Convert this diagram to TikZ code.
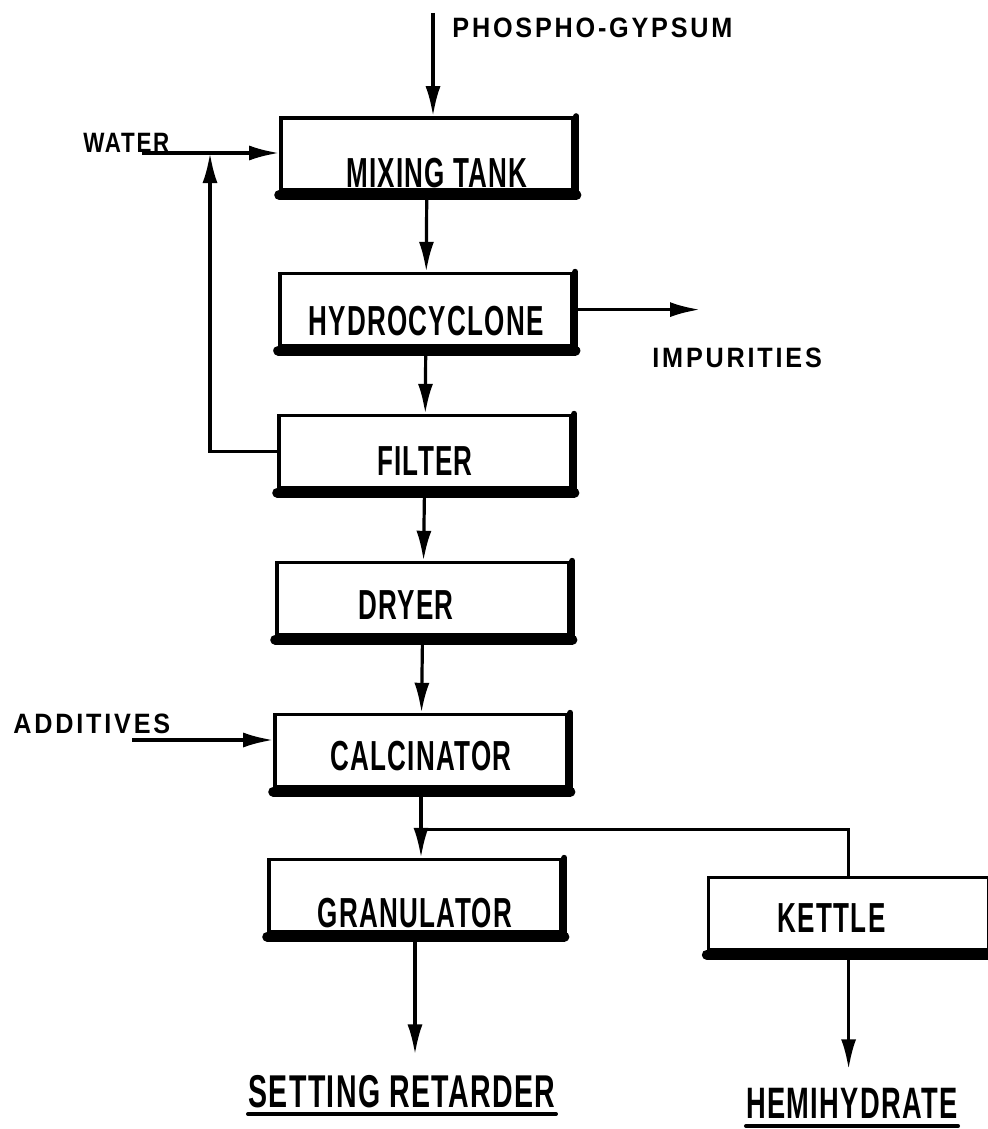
\documentclass[tikz,border=0pt]{standalone}
\usepackage{fontspec}
\usepackage{tikz}
\usetikzlibrary{arrows.meta, positioning, calc}
\definecolor{Ink}{RGB}{0, 0, 0}
\newfontfamily\boxfont[FakeStretch=0.62,LetterSpace=3]{Liberation Sans}
\newfontfamily\tagfont[FakeStretch=0.9,LetterSpace=10]{Liberation Sans}
\newfontfamily\waterfont[FakeStretch=0.8,LetterSpace=6]{Liberation Sans}

\begin{document}
\begin{tikzpicture}[
        x=0.5pt, y=-0.5pt,
        unit/.style={rectangle, minimum width=146pt, minimum height=36pt, inner sep=0pt, text centered, draw=Ink, fill=white, line width=1.8pt, text=Ink, font=\boxfont\bfseries\fontsize{21}{21}\selectfont},
        stream/.style={inner sep=0pt, text=Ink, font=\tagfont\bfseries\fontsize{14}{14}\selectfont},
        product/.style={inner sep=0pt, text=Ink, font=\boxfont\bfseries\fontsize{23}{23}\selectfont},
        arrow/.style={line width=1.6pt, -{Latex[length=15pt,width=7.5pt]}, Ink},
        pipe/.style={line width=1.6pt, Ink},
        rim/.style={line width=#1, Ink, line cap=round}
    ]
        \useasboundingbox (0,0) rectangle (988,1129);

        \node (mix) [unit] at (427,154) {\rule{0pt}{34pt}\hspace*{10pt}MIXING TANK};
        \node (hyd) [unit, below=40pt of mix, xshift=-0.5pt] {\rule{0pt}{26pt}HYDROCYCLONE};
        \node (filter) [unit, below=33.2pt of hyd, xshift=-0.5pt] {\rule{0pt}{24pt}FILTER};
        \node (dryer) [unit, below=35.7pt of filter, xshift=-1pt] {\rule{0pt}{21pt}DRYER\hspace*{17pt}};
        \node (calc) [unit, below=38.2pt of dryer, xshift=-1pt] {\rule{0pt}{20pt}CALCINATOR};
        \node (gran) [unit, below=34.7pt of calc, xshift=-3pt] {\rule{0pt}{32pt}GRANULATOR};
        \node (kettle) [unit, minimum width=140pt, right=72pt of gran, yshift=-9pt] {\rule{0pt}{19pt}KETTLE\hspace*{17pt}};

        \node (phos) [stream, anchor=west] at (452,28) {PHOSPHO-GYPSUM};
        \node (water) [stream, font=\waterfont\bfseries\fontsize{14}{14}\selectfont, anchor=base west] at (83,153) {WATER};
        \node (imp) [stream, anchor=west] at (652,358) {IMPURITIES};
        \node (add) [stream, anchor=base west] at (13,733) {ADDITIVES};
        \node (setting) [product, anchor=base] at (402,1107) {SETTING RETARDER};
        \node (hemi) [product, font=\boxfont\bfseries\fontsize{22}{22}\selectfont, anchor=base] at (852,1118) {HEMIHYDRATE};

        \coordinate (pin) at (433,13);
        \coordinate (win) at (142,153);
        \coordinate (wjoin) at (210,153);
        \coordinate (ain) at (132,740);
        \coordinate (iout) at (700,310);
        \coordinate (split) at ($(calc.south)+(0,41)$);

        % thick lower and right edges of the units
        \foreach \n in {mix, hyd, filter, dryer, calc, gran, kettle} {
            \draw [rim=3pt] ([xshift=0.8pt]\n.north east) -- ([xshift=0.8pt]\n.south east);
            \draw [rim=5pt] ([xshift=0.8pt, yshift=-1.6pt]\n.south east) -- ([yshift=-1.6pt]\n.south west);
        }

        \draw [arrow] (pin) -- (pin |- mix.north);
        \draw [arrow] (win) -- (win -| mix.west);
        \draw [arrow] (filter.west) -| (wjoin);
        \draw [arrow] (mix) -- (hyd);
        \draw [arrow] (hyd.east) -- (hyd.east -| iout);
        \draw [arrow] (hyd) -- (filter);
        \draw [arrow] (filter) -- (dryer);
        \draw [arrow] (dryer) -- (calc);
        \draw [arrow] (ain) -- (ain -| calc.west);
        \draw [pipe] (calc) -- (split) -| (kettle);
        \draw [arrow] (split) -- (split |- gran.north);
        \draw [arrow, shorten >=10pt] (gran) -- (gran.south |- setting.north);
        \draw [arrow, shorten >=9pt] (kettle) -- (kettle.south |- hemi.north);

        \draw [rim=2pt] ($(setting.base west)+(0,7)$) -- ($(setting.base east)+(0,7)$);
        \draw [rim=2pt] ($(hemi.base west)+(0,8)$) -- ($(hemi.base east)+(0,8)$);
    \end{tikzpicture}
\end{document}
